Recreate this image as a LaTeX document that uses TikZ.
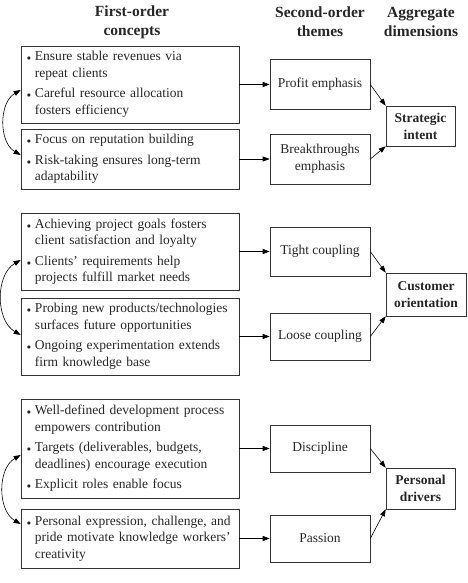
\documentclass[tikz,border=0pt]{standalone}
\usepackage{fontspec}
\setmainfont{Liberation Serif}
\usetikzlibrary{arrows.meta}
% 带悬挂缩进的条目
\newcommand{\itm}[1]{\hangindent=8pt\hangafter=1\noindent\makebox[8pt][l]{\footnotesize$\bullet$}#1\par}
\tikzset{
  concept/.style={draw=black!80, line width=0.6pt, text=black!85, text width=206pt,
    inner xsep=6pt, inner ysep=3pt, align=left, font=\fontsize{13.5}{16.5}\selectfont,
    execute at begin node={\setlength{\parskip}{4pt}}},
  theme/.style={draw=black!80, line width=0.6pt, text=black!85, minimum width=100pt,
    align=center, font=\fontsize{13.5}{17}\selectfont},
  aggr/.style={draw=black!80, line width=0.6pt, text=black!85, align=center,
    inner sep=2pt, font=\bfseries\fontsize{13.5}{17}\selectfont},
  head/.style={align=center, text=black!85, font=\bfseries\fontsize{15.5}{19}\selectfont},
}
\begin{document}
\begin{tikzpicture}[
  x=1pt, y=1pt,
  >={Triangle[length=7pt,width=5pt]},
  line width=0.6pt,
  ]
  \useasboundingbox (0,0) rectangle (468,583);
  % 表头
  \node[head] (h1) at (132,561) {First-order\\concepts};
  \node[head] (h2) at (320,561) {Second-order\\themes};
  \node[head] (h3) at (421,561) {Aggregate\\dimensions};

  % 第一组
  \node[concept, minimum height=77pt] (ca1) at (130,498.5)
    {\itm{Ensure stable revenues via\newline repeat clients}\itm{Careful resource allocation\newline fosters efficiency}};
  \node[concept, minimum height=60pt] (ca2) at (130,424)
    {\itm{Focus on reputation building}\itm{Risk-taking ensures long-term\newline adaptability}};
  \node[theme, minimum height=50pt] (ta1) at (320,498.5) {Profit emphasis};
  \node[theme, minimum height=50pt] (ta2) at (320,424) {Breakthroughs\\emphasis};
  \node[aggr, minimum width=69pt, minimum height=40pt] (ga) at (420.5,457) {Strategic\\intent};
  \draw[->] (ca1) -- (ta1);
  \draw[->] (ca2) -- (ta2);
  \draw[->] (ta1.east) -- (ga.north west);
  \draw[->] (ta2.east) -- (ga.south west);
  \draw[<->] ([yshift=-5.5pt]ca1.west) to[bend right=60] ([yshift=4pt]ca2.west);

  % 第二组
  \node[concept, minimum height=77pt] (cb1) at (130,331.5)
    {\itm{Achieving project goals fosters\newline client satisfaction and loyalty}\itm{Clients' requirements help\newline projects fulfill market needs}};
  \node[concept, minimum height=77pt] (cb2) at (130,246.5)
    {\itm{Probing new products/technologies\newline surfaces future opportunities}\itm{Ongoing experimentation extends\newline firm knowledge base}};
  \node[theme, minimum height=49pt] (tb1) at (320,331.5) {Tight coupling};
  \node[theme, minimum height=47pt] (tb2) at (320,246.5) {Loose coupling};
  \node[aggr, minimum width=80pt, minimum height=43pt] (gb) at (426,288.5) {Customer\\orientation};
  \draw[->] (cb1) -- (tb1);
  \draw[->] (cb2) -- (tb2);
  \draw[->] (tb1.east) -- (gb.north west);
  \draw[->] (tb2.east) -- (gb.south west);
  \draw[<->] ([yshift=-8.5pt]cb1.west) to[bend right=60] ([yshift=1.5pt]cb2.west);

  % 第三组
  \node[concept, minimum height=99pt] (cc1) at (130,134.5)
    {\itm{Well-defined development process\newline empowers contribution}\itm{Targets (deliverables, budgets,\newline deadlines) encourage execution}\itm{Explicit roles enable focus}};
  \node[concept, minimum height=59pt] (cc2) at (130,44.5)
    {\itm{Personal expression, challenge, and\newline pride motivate knowledge workers'\newline creativity}};
  \node[theme, minimum height=47pt] (tc1) at (320,134.5) {Discipline};
  \node[theme, minimum height=47pt] (tc2) at (320,44.5) {Passion};
  \node[aggr, minimum width=69pt, minimum height=41pt] (gc) at (420.5,94.5) {Personal\\drivers};
  \draw[->] (cc1) -- (tc1);
  \draw[->] (cc2) -- (tc2);
  \draw[->] (tc1.east) -- (gc.north west);
  \draw[->] (tc2.east) -- (gc.south west);
  \draw[<->] ([yshift=-6.5pt]cc1.west) to[bend right=60] ([yshift=14.5pt]cc2.west);
\end{tikzpicture}
\end{document}
